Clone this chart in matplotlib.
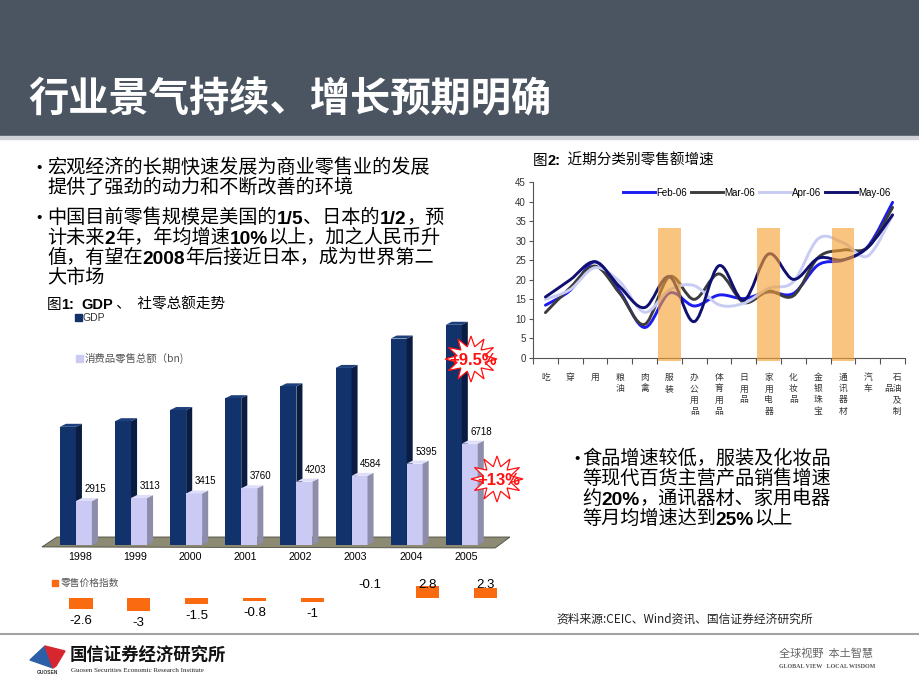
import numpy as np
import matplotlib
matplotlib.use('Agg')
import matplotlib.pyplot as plt
from matplotlib.patches import Polygon, Rectangle, PathPatch
from matplotlib.path import Path
from matplotlib.lines import Line2D

CJK = ['Noto Sans CJK SC', 'DejaVu Sans']
LAT = ['Liberation Sans', 'Noto Sans CJK SC', 'DejaVu Sans']
plt.rcParams['font.family'] = CJK

# ---- figure 1 data ----
years = ['1998', '1999', '2000', '2001', '2002', '2003', '2004', '2005']
gdp = [7835, 8207, 8947, 9731, 10517, 11739, 13688, 14600]
retail = [2915, 3113, 3415, 3760, 4203, 4584, 5395, 6718]
price_index = [-2.6, -3, -1.5, -0.8, -1, -0.1, 2.8, 2.3]
callouts = ['+9.5%', '+13%']

# ---- figure 2 data ----
categories = ['吃', '穿', '用', '粮油', '肉禽', '服装', '办公用品', '体育用品', '日用品',
              '家用电器', '化妆品', '金银珠宝', '通讯器材', '汽车', '石油及制品']
months = ['Feb-06', 'Mar-06', 'Apr-06', 'May-06']
feb = [13.5, 17.3, 24.6, 17.0, 7.8, 16.6, 13.3, 16.1, 15.2, 16.9, 16.5, 23.8, 25.0, 28.5, 39.8]
mar = [11.6, 18.0, 23.5, 16.5, 8.6, 20.8, 15.0, 21.5, 14.2, 17.1, 15.9, 25.7, 27.6, 28.3, 38.5]
apr = [15.0, 17.5, 23.1, 19.5, 11.7, 17.4, 18.5, 13.6, 14.0, 17.8, 19.5, 30.5, 29.5, 26.1, 36.5]
may = [15.6, 20.0, 24.6, 18.2, 12.9, 20.8, 9.3, 23.6, 14.8, 26.6, 20.1, 25.5, 25.1, 28.3, 36.6]
highlight = ['服装', '家用电器', '通讯器材']
highlight_top = 33.3

W, H = 920, 691
fig = plt.figure(figsize=(W / 100, H / 100), dpi=100)

# background axes in pixel coordinates for slide decoration and text
bg = fig.add_axes([0, 0, 1, 1], zorder=0)
bg.set_xlim(0, W)
bg.set_ylim(H, 0)
bg.axis('off')


def px_axes(x0, y0, x1, y1, **kw):
    return fig.add_axes([x0 / W, 1 - y1 / H, (x1 - x0) / W, (y1 - y0) / H], **kw)


def rich(x, y, parts, size, color='black'):
    prev = None
    for s, bold in parts:
        kw = dict(fontsize=size, family=LAT if bold else CJK,
                  fontweight='bold' if bold else 'normal', color=color,
                  va='bottom', ha='left')
        if prev is None:
            prev = bg.text(x, y, s, **kw)
        else:
            prev = bg.annotate(s, xy=(1, 0), xycoords=prev, **kw)
    return prev


# header band
bg.add_patch(Rectangle((0, 0), W, 136, color='#4b5561', zorder=0))
bg.add_patch(Rectangle((0, 136), W, 3, color='#cfd3d7', zorder=0))
bg.text(28, 100, '行业景气持续、增长预期明确', fontsize=29, fontweight='bold',
        color='white', va='center', ha='left')

# left bullets
left_lines = [
    [('宏观经济的长期快速发展为商业零售业的发展', False)],
    [('提供了强劲的动力和不断改善的环境', False)],
    [('中国目前零售规模是美国的', False), ('1/5', True), ('、日本的', False), ('1/2', True), ('，预', False)],
    [('计未来', False), ('2', True), ('年，年均增速', False), ('10%', True), ('以上，加之人民币升', False)],
    [('值，有望在', False), ('2008', True), ('年后接近日本，成为世界第二', False)],
    [('大市场', False)],
]
left_y = [168, 188, 218, 238, 258, 278]
for parts, yc in zip(left_lines, left_y):
    rich(47, yc + 10, parts, 13.8)
bg.text(36, 168, '•', fontsize=11, va='center', ha='left', family=LAT)
bg.text(36, 218, '•', fontsize=11, va='center', ha='left', family=LAT)

# right bullet
right_lines = [
    [('食品增速较低，服装及化妆品', False)],
    [('等现代百货主营产品销售增速', False)],
    [('约', False), ('20%', True), ('，通讯器材、家用电器', False)],
    [('等月均增速达到', False), ('25%', True), ('以上', False)],
]
right_y = [459, 479, 499, 519]
for parts, yc in zip(right_lines, right_y):
    rich(582, yc + 10, parts, 13.8)
bg.text(574, 459, '•', fontsize=11, va='center', ha='left', family=LAT)

# chart titles
rich(47, 312, [('图', False), ('1:', True), ('  ', False), ('GDP', True), (' 、  社零总额走势', False)], 10.5)
rich(533, 168, [('图', False), ('2:', True), ('  近期分类别零售额增速', False)], 10.5)

# ---------------- figure 1: 3D-looking bars ----------------
ax1 = px_axes(40, 300, 510, 560, zorder=2)
ax1.set_facecolor('none')
ax1.set_xlim(-0.726, 7.80)
ax1.set_ylim(-995, 16243)
ax1.axis('off')
x = np.arange(len(years))
w = 0.29
dx, dy = 0.11, 200

# floor
ax1.add_patch(Polygon([(-0.69, -130), (-0.42, 530), (7.80, 530), (7.53, -200)],
                      closed=True, facecolor='#8c8a72', edgecolor='#4a4a40', lw=0.6, zorder=1))


def bar3d(xs, vals, front, side, top):
    bars = ax1.bar(xs, vals, w, color=front, zorder=3)
    for b in bars:
        x0, x1, h = b.get_x(), b.get_x() + b.get_width(), b.get_height()
        ax1.add_patch(Polygon([(x1, 0), (x1 + dx, dy), (x1 + dx, h + dy), (x1, h)],
                              closed=True, facecolor=side, edgecolor='none', zorder=3))
        ax1.add_patch(Polygon([(x0, h), (x0 + dx, h + dy), (x1 + dx, h + dy), (x1, h)],
                              closed=True, facecolor=top, edgecolor='none', zorder=3))
    return bars


bar3d(x - 0.22, gdp, '#12326c', '#0a1c42', '#1d3f7c')
rbars = bar3d(x + 0.07, retail, '#cacaf4', '#8e8eac', '#dedefa')
for b, v in zip(rbars, retail):
    ax1.text(b.get_x() + b.get_width() + 0.06, v + 800, f'{v}', fontsize=7, family=LAT,
             ha='center', va='center', zorder=2)
for i, yr in enumerate(years):
    ax1.text(i, -800, yr, fontsize=7.7, family=LAT, ha='center', va='center')

# legend
bg.add_patch(Rectangle((75, 314), 7, 7, color='#12326c'))
bg.text(83, 317.5, 'GDP', fontsize=7.5, family=LAT, va='center', color='#333333')
bg.add_patch(Rectangle((76, 355), 7, 7, color='#cacaf4'))
bg.text(85, 358, '消费品零售总额（bn)', fontsize=7.5, va='center', color='#555555')


def star(cx, cy, rx, ry, n=12):
    ang = np.linspace(np.pi / 2, np.pi / 2 + 2 * np.pi, 2 * n, endpoint=False)
    r = np.where(np.arange(2 * n) % 2 == 0, 1.0, 0.55)
    return np.column_stack([cx + rx * r * np.cos(ang), cy - ry * r * np.sin(ang)])


# growth callouts on top of the bars (drawn in pixel coordinates)
for (cx, cy), label in zip([(471, 359), (497, 479)], callouts):
    ax1.add_patch(Polygon(star(cx, cy, 26, 23), closed=True, facecolor='white',
                          edgecolor='#ff1010', lw=0.9, zorder=5, transform=bg.transData,
                          clip_on=False))
    ax1.text(cx + 2, cy + 1, label, fontsize=12, fontweight='bold', family=LAT,
             color='#ff1010', ha='center', va='center', zorder=6, transform=bg.transData,
             clip_on=False)

# price index strip
ax2 = px_axes(40, 575, 510, 630, zorder=2)
ax2.set_facecolor('none')
ax2.set_xlim(-0.709, 7.42)
ax2.set_ylim(-7.44, 5.35)
ax2.axis('off')
ax2.bar(np.arange(len(price_index)), price_index, 0.4, color='#fa6a10')
for i, v in enumerate(price_index):
    ly = v - 2.8 if v < -0.5 else 3.0
    ax2.text(i, ly, f'{v:g}', fontsize=9.5, family=LAT, ha='center', va='center')
bg.add_patch(Rectangle((52, 580), 6, 6, color='#fa6a10'))
bg.text(61, 583, '零售价格指数', fontsize=7, va='center', color='#555555')

# ---------------- figure 2: smoothed lines ----------------
ax3 = px_axes(533, 182, 905, 358, zorder=2)
ax3.set_facecolor('none')
xc = np.arange(len(categories))
ax3.set_xlim(-0.5, len(categories) - 0.5)
ax3.set_ylim(0, 45)


def smooth_path(xs, ys):
    pts = np.column_stack([xs, ys]).astype(float)
    n = len(pts)
    verts, codes = [pts[0]], [Path.MOVETO]
    for i in range(n - 1):
        p0 = pts[i - 1] if i > 0 else pts[i]
        p1, p2 = pts[i], pts[i + 1]
        p3 = pts[i + 2] if i + 2 < n else pts[i + 1]
        verts += [p1 + (p2 - p0) / 6, p2 - (p3 - p1) / 6, p2]
        codes += [Path.CURVE4] * 3
    return Path(verts, codes)


colors = ['#1c1cf0', '#3c3c3c', '#c8ccf2', '#101070']
handles = []
for name, vals, c in zip(months, [feb, mar, apr, may], colors):
    ax3.add_patch(PathPatch(smooth_path(xc, vals), fill=False, edgecolor=c, lw=2.1,
                            capstyle='round', joinstyle='round', zorder=3))
    handles.append(Line2D([], [], color=c, lw=2.1, label=name))

hx = [categories.index(h) for h in highlight]
ax3.bar(hx, [highlight_top + 0.7] * len(hx), 0.92, bottom=-0.7, color='#f5a030', alpha=0.62,
        zorder=4, clip_on=False)

ax3.legend(handles=handles, loc='center right', bbox_to_anchor=(0.985, 0.94), ncol=4,
           frameon=False, handlelength=3.3, handletextpad=0.15, columnspacing=0.35,
           prop={'family': LAT, 'size': 7})

for s in ['top', 'right']:
    ax3.spines[s].set_visible(False)
for s in ['left', 'bottom']:
    ax3.spines[s].set_color('#555555')
    ax3.spines[s].set_linewidth(0.8)
ax3.set_yticks(range(0, 50, 5))
ax3.set_yticklabels([str(v) for v in range(0, 50, 5)], family=LAT, fontsize=7, color='#333333')
ax3.tick_params(axis='y', length=3, width=0.8, color='#555555', pad=2)


def vlabel(s):
    if s == '石油及制品':
        return '\u3000石\n品油\n\u3000及\n\u3000制'
    return '\n'.join(s)


ax3.set_xticks(xc)
ax3.set_xticklabels([vlabel(c) for c in categories], fontsize=6.3, color='#333333',
                    va='top', linespacing=1.3)
ax3.tick_params(axis='x', which='major', length=0, pad=11)
ax3.set_xticks(np.arange(-0.5, len(categories), 1), minor=True)
ax3.tick_params(axis='x', which='minor', length=4, width=0.8, color='#555555', direction='out')

# source
bg.text(556, 619, '资料来源:CEIC、Wind资讯、国信证券经济研究所', fontsize=8.5, va='center', color='#222222')

# footer
bg.plot([0, W], [634, 634], color='#a3a3a3', lw=1.5)
bg.add_patch(Polygon([(30, 660), (45, 646), (53, 668)], closed=True, color='#2d5fa8'))
bg.add_patch(Polygon([(45, 646), (65, 651), (56, 666), (53, 668)], closed=True, color='#d8262e'))
bg.text(70, 656, '国信证券经济研究所', fontsize=12.5, fontweight='bold', va='center', color='#111111')
bg.text(71, 671, 'Guosen Securities Economic Research Institute', fontsize=5,
        family=['Liberation Serif', 'DejaVu Serif'], va='center', color='#222222')
bg.text(47, 672, 'GUOSEN', fontsize=3.5, fontweight='bold', family=LAT, ha='center', va='center',
        color='#333333')
bg.text(779, 654, '全球视野  本土智慧', fontsize=8, va='center', color='#666666')
bg.text(779, 667, 'GLOBAL VIEW   LOCAL WISDOM', fontsize=4.3, fontweight='bold',
        family=['Liberation Serif', 'DejaVu Serif'], va='center', color='#555555')

fig.savefig('out.png', dpi=100)
